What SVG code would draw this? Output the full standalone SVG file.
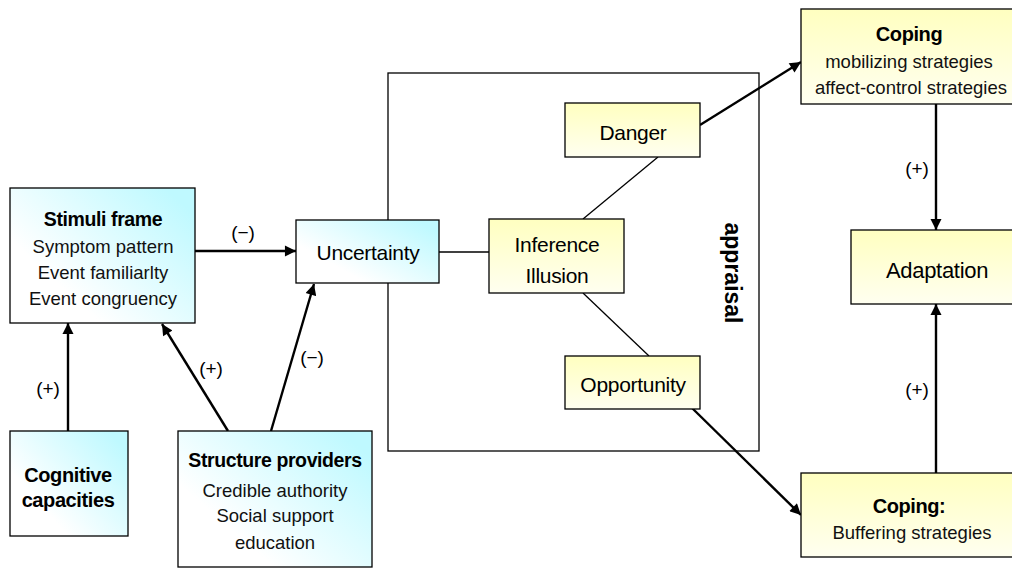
<svg xmlns="http://www.w3.org/2000/svg" width="1012" height="568" viewBox="0 0 1012 568">
<style>
.box{stroke:#000;stroke-width:1.3}
.cy{fill:url(#gc)}
.yl{fill:url(#gy)}
.t{font-family:"Liberation Sans",Arial,sans-serif;fill:#000;text-anchor:middle}
.ti{font-size:19.5px;font-weight:bold;letter-spacing:-0.4px}
.sub{font-size:18.5px;fill:#111}
.nm{font-size:21px;letter-spacing:-0.3px}
.lb{font-size:19px}
.arr{stroke:#000;stroke-width:2.4;fill:none;marker-end:url(#ah)}
.ln{stroke:#000;stroke-width:1.3;fill:none}
</style>
<defs>
<linearGradient id="gc" x1="0" y1="1" x2="1" y2="0.2">
<stop offset="0.3" stop-color="#ffffff"/>
<stop offset="1" stop-color="#bff9ff"/>
</linearGradient>
<linearGradient id="gy" x1="0" y1="0" x2="0" y2="1">
<stop offset="0" stop-color="#ffffc0"/>
<stop offset="1" stop-color="#fffff0"/>
</linearGradient>
<marker id="ah" viewBox="0 0 10 10" refX="10" refY="5" markerWidth="5" markerHeight="4.6" orient="auto" markerUnits="strokeWidth">
<path d="M0,0 L10,5 L0,10 z" fill="#000"/>
</marker>
</defs>
<rect width="1012" height="568" fill="#fff"/>

<g id="appraisal">
<rect x="388" y="73" width="371" height="378" fill="none" class="box"/>
<text class="t" font-size="23" font-weight="bold" transform="translate(733,273) rotate(90)" dominant-baseline="central">appraisal</text>
</g>

<g id="connectors">
<line class="arr" x1="195" y1="251" x2="296" y2="251"/>
<line class="arr" x1="68" y1="431" x2="68" y2="323"/>
<line class="arr" x1="228" y1="431" x2="162" y2="324"/>
<line class="arr" x1="271" y1="431" x2="314" y2="284"/>
<line class="ln" x1="439" y1="252" x2="489" y2="252"/>
<line class="ln" x1="583" y1="219" x2="658" y2="157"/>
<line class="ln" x1="583" y1="293" x2="649" y2="356"/>
<line class="arr" x1="700" y1="125" x2="801" y2="62"/>
<line class="arr" x1="692" y1="408" x2="801" y2="515"/>
<line class="arr" x1="936" y1="104" x2="936" y2="230"/>
<line class="arr" x1="936" y1="473" x2="936" y2="304"/>
<text class="t lb" x="243" y="239">(−)</text>
<text class="t lb" x="48" y="395">(+)</text>
<text class="t lb" x="211" y="375">(+)</text>
<text class="t lb" x="312" y="364">(−)</text>
<text class="t lb" x="917" y="175">(+)</text>
<text class="t lb" x="917" y="396">(+)</text>
</g>

<g id="stimuli">
<rect x="10" y="188" width="185" height="135" class="box cy"/>
<text class="t ti" x="103" y="226">Stimuli frame</text>
<text class="t sub" x="103" y="253">Symptom pattern</text>
<text class="t sub" x="103" y="279">Event familiarlty</text>
<text class="t sub" x="103" y="305">Event congruency</text>
</g>

<g id="uncertainty">
<rect x="296" y="220" width="143" height="63" class="box cy"/>
<text class="t nm" x="368" y="260" font-size="21.5">Uncertainty</text>
</g>

<g id="cognitive">
<rect x="10" y="431" width="118" height="105" class="box cy"/>
<text class="t" x="68" y="482" font-size="20" font-weight="bold" letter-spacing="-0.4">Cognitive</text>
<text class="t" x="68" y="507" font-size="20" font-weight="bold" letter-spacing="-0.4">capacities</text>
</g>

<g id="structure">
<rect x="178" y="431" width="194" height="136" class="box cy"/>
<text class="t ti" x="275" y="467" font-size="19">Structure providers</text>
<text class="t sub" x="275" y="497">Credible authority</text>
<text class="t sub" x="275" y="522">Social support</text>
<text class="t sub" x="275" y="549">education</text>
</g>

<g id="inference">
<rect x="489" y="219" width="135" height="74" class="box yl"/>
<text class="t nm" x="557" y="252">Inference</text>
<text class="t nm" x="557" y="283">Illusion</text>
</g>

<g id="danger">
<rect x="565" y="103" width="135" height="54" class="box yl"/>
<text class="t nm" x="633" y="140">Danger</text>
</g>

<g id="opportunity">
<rect x="565" y="356" width="135" height="53" class="box yl"/>
<text class="t nm" x="633" y="392">Opportunity</text>
</g>

<g id="coping-top">
<rect x="801" y="9" width="216" height="95" class="box yl"/>
<text class="t" x="909" y="41" font-size="20" font-weight="bold" letter-spacing="-0.4">Coping</text>
<text class="t sub" x="909" y="68">mobilizing strategies</text>
<text class="t sub" x="911" y="94">affect-control strategies</text>
</g>

<g id="adaptation">
<rect x="851" y="230" width="172" height="74" class="box yl"/>
<text class="t" x="937" y="278" font-size="22" letter-spacing="-0.3">Adaptation</text>
</g>

<g id="coping-buffer">
<rect x="801" y="473" width="216" height="84" class="box yl"/>
<text class="t" x="909" y="513" font-size="20" font-weight="bold" letter-spacing="-0.4">Coping:</text>
<text class="t sub" x="912" y="539">Buffering strategies</text>
</g>
</svg>
